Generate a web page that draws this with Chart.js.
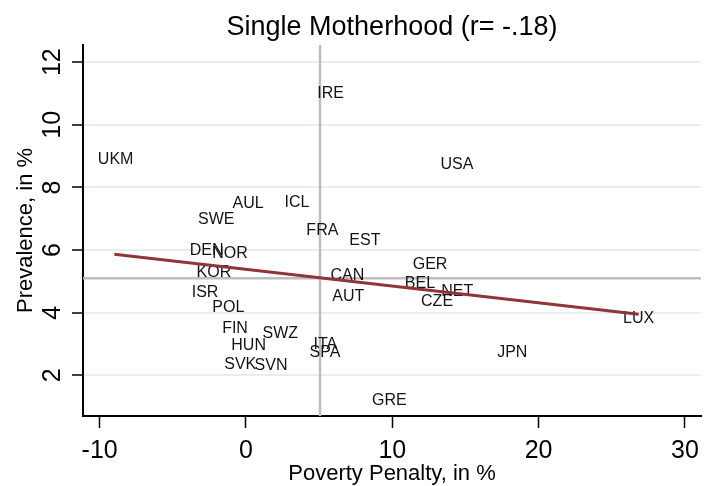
<!DOCTYPE html>
<html>
<head>
<meta charset="utf-8">
<script src="https://cdn.jsdelivr.net/npm/chart.js@4"></script>
<style>
  html, body { margin: 0; padding: 0; background: #fff; }
  #wrap { width: 706px; height: 486px; }
</style>
</head>
<body>
<div id="wrap"><canvas id="motherhoodChart" width="706" height="486"></canvas></div>
<script>
const countries = ['IRE', 'UKM', 'AUL', 'ICL', 'SWE', 'FRA', 'EST', 'DEN', 'NOR', 'KOR',
                   'CAN', 'ISR', 'AUT', 'POL', 'FIN', 'SWZ', 'HUN', 'ITA', 'SPA', 'SVK',
                   'SVN', 'GRE', 'USA', 'GER', 'BEL', 'NET', 'CZE', 'LUX', 'JPN'];
const povertyPenalty = [5.79, -8.91, 0.14, 3.49, -2.03, 5.22, 8.13, -2.69, -1.09, -2.19,
                        6.93, -2.80, 6.99, -1.21, -0.75, 2.35, 0.18, 5.42, 5.40, -0.39,
                        1.71, 9.80, 14.42, 12.58, 11.89, 14.44, 13.06, 26.84, 18.20];
const prevalence = [11.01, 8.90, 7.50, 7.53, 6.98, 6.61, 6.30, 5.98, 5.88, 5.29,
                    5.17, 4.64, 4.51, 4.17, 3.49, 3.34, 2.95, 2.97, 2.72, 2.33,
                    2.31, 1.19, 8.74, 5.55, 4.94, 4.66, 4.35, 3.80, 2.72];
// fitted line end points
const fitX = [-9.0, 26.84];
const fitY = [5.87, 3.95];
// reference lines (means)
const meanPenalty = 5.06;
const meanPrevalence = 5.1;
const xTicks = [-10, 0, 10, 20, 30];
const yTicks = [2, 4, 6, 8, 10, 12];

const FONT = '"Liberation Sans", Arial, sans-serif';

document.addEventListener('DOMContentLoaded', function() {
    const ctx = document.getElementById('motherhoodChart').getContext('2d');

    const stataPlugin = {
        id: 'stataBits',
        beforeDatasetsDraw(chart) {
            const c = chart.ctx;
            const area = chart.chartArea;
            const xs = chart.scales.x, ys = chart.scales.y;
            c.save();
            c.strokeStyle = '#bdbdbd';
            c.lineWidth = 2.5;
            const mx = xs.getPixelForValue(meanPenalty);
            const my = ys.getPixelForValue(meanPrevalence);
            c.beginPath();
            c.moveTo(mx, area.top);
            c.lineTo(mx, area.bottom);
            c.moveTo(area.left, my);
            c.lineTo(area.right, my);
            c.stroke();

            // country labels centred on the (hidden) points
            const meta = chart.getDatasetMeta(0);
            c.fillStyle = '#141414';
            c.font = '16px ' + FONT;
            c.textAlign = 'center';
            c.textBaseline = 'middle';
            meta.data.forEach(function(pt, i) {
                c.fillText(countries[i], pt.x, pt.y);
            });
            c.restore();
        },
        afterDraw(chart) {
            const c = chart.ctx;
            const area = chart.chartArea;
            const xs = chart.scales.x, ys = chart.scales.y;
            c.save();
            c.fillStyle = '#000';

            c.font = '27px ' + FONT;
            c.textAlign = 'center';
            c.textBaseline = 'alphabetic';
            c.fillText('Single Motherhood (r= -.18)', (area.left + area.right) / 2, 35);

            c.font = '25px ' + FONT;
            xTicks.forEach(function(v) {
                c.fillText(String(v), xs.getPixelForValue(v), 458);
            });
            yTicks.forEach(function(v) {
                c.save();
                c.translate(60, ys.getPixelForValue(v));
                c.rotate(-Math.PI / 2);
                c.fillText(String(v), 0, 0);
                c.restore();
            });

            c.font = '22px ' + FONT;
            c.fillText('Poverty Penalty, in %', (area.left + area.right) / 2, 480);
            c.save();
            c.translate(32, (area.top + area.bottom) / 2);
            c.rotate(-Math.PI / 2);
            c.fillText('Prevalence, in %', 0, 0);
            c.restore();
            c.restore();
        }
    };

    new Chart(ctx, {
        type: 'scatter',
        data: {
            datasets: [{
                label: 'Countries',
                data: countries.map(function(c, i) { return { x: povertyPenalty[i], y: prevalence[i] }; }),
                pointRadius: 0,
                pointHoverRadius: 0,
                showLine: false
            }, {
                label: 'Fitted values',
                data: fitX.map(function(x, i) { return { x: x, y: fitY[i] }; }),
                showLine: true,
                borderColor: '#903539',
                borderWidth: 3,
                pointRadius: 0,
                fill: false
            }]
        },
        options: {
            responsive: false,
            animation: false,
            layout: { padding: { top: 45, right: 5, left: 0, bottom: 0 } },
            plugins: {
                legend: { display: false },
                tooltip: { enabled: false },
                title: { display: false }
            },
            scales: {
                x: {
                    type: 'linear',
                    min: -11.14,
                    max: 31.1,
                    afterBuildTicks: function(scale) {
                        scale.ticks = xTicks.map(function(v) { return { value: v }; });
                    },
                    afterFit: function(scale) { scale.height = 70; },
                    ticks: { display: false },
                    grid: {
                        drawOnChartArea: false,
                        drawTicks: true,
                        tickLength: 12,
                        tickColor: '#000',
                        tickWidth: 1.5
                    },
                    border: { color: '#000', width: 2 }
                },
                y: {
                    type: 'linear',
                    min: 0.70,
                    max: 12.55,
                    afterBuildTicks: function(scale) {
                        scale.ticks = yTicks.map(function(v) { return { value: v }; });
                    },
                    afterFit: function(scale) { scale.width = 83; },
                    ticks: { display: false },
                    grid: {
                        color: '#e6eef1',
                        lineWidth: 2,
                        drawTicks: true,
                        tickLength: 11,
                        tickColor: '#000',
                        tickWidth: 1.5
                    },
                    border: { color: '#000', width: 2 }
                }
            }
        },
        plugins: [stataPlugin]
    });
});
</script>
</body>
</html>
